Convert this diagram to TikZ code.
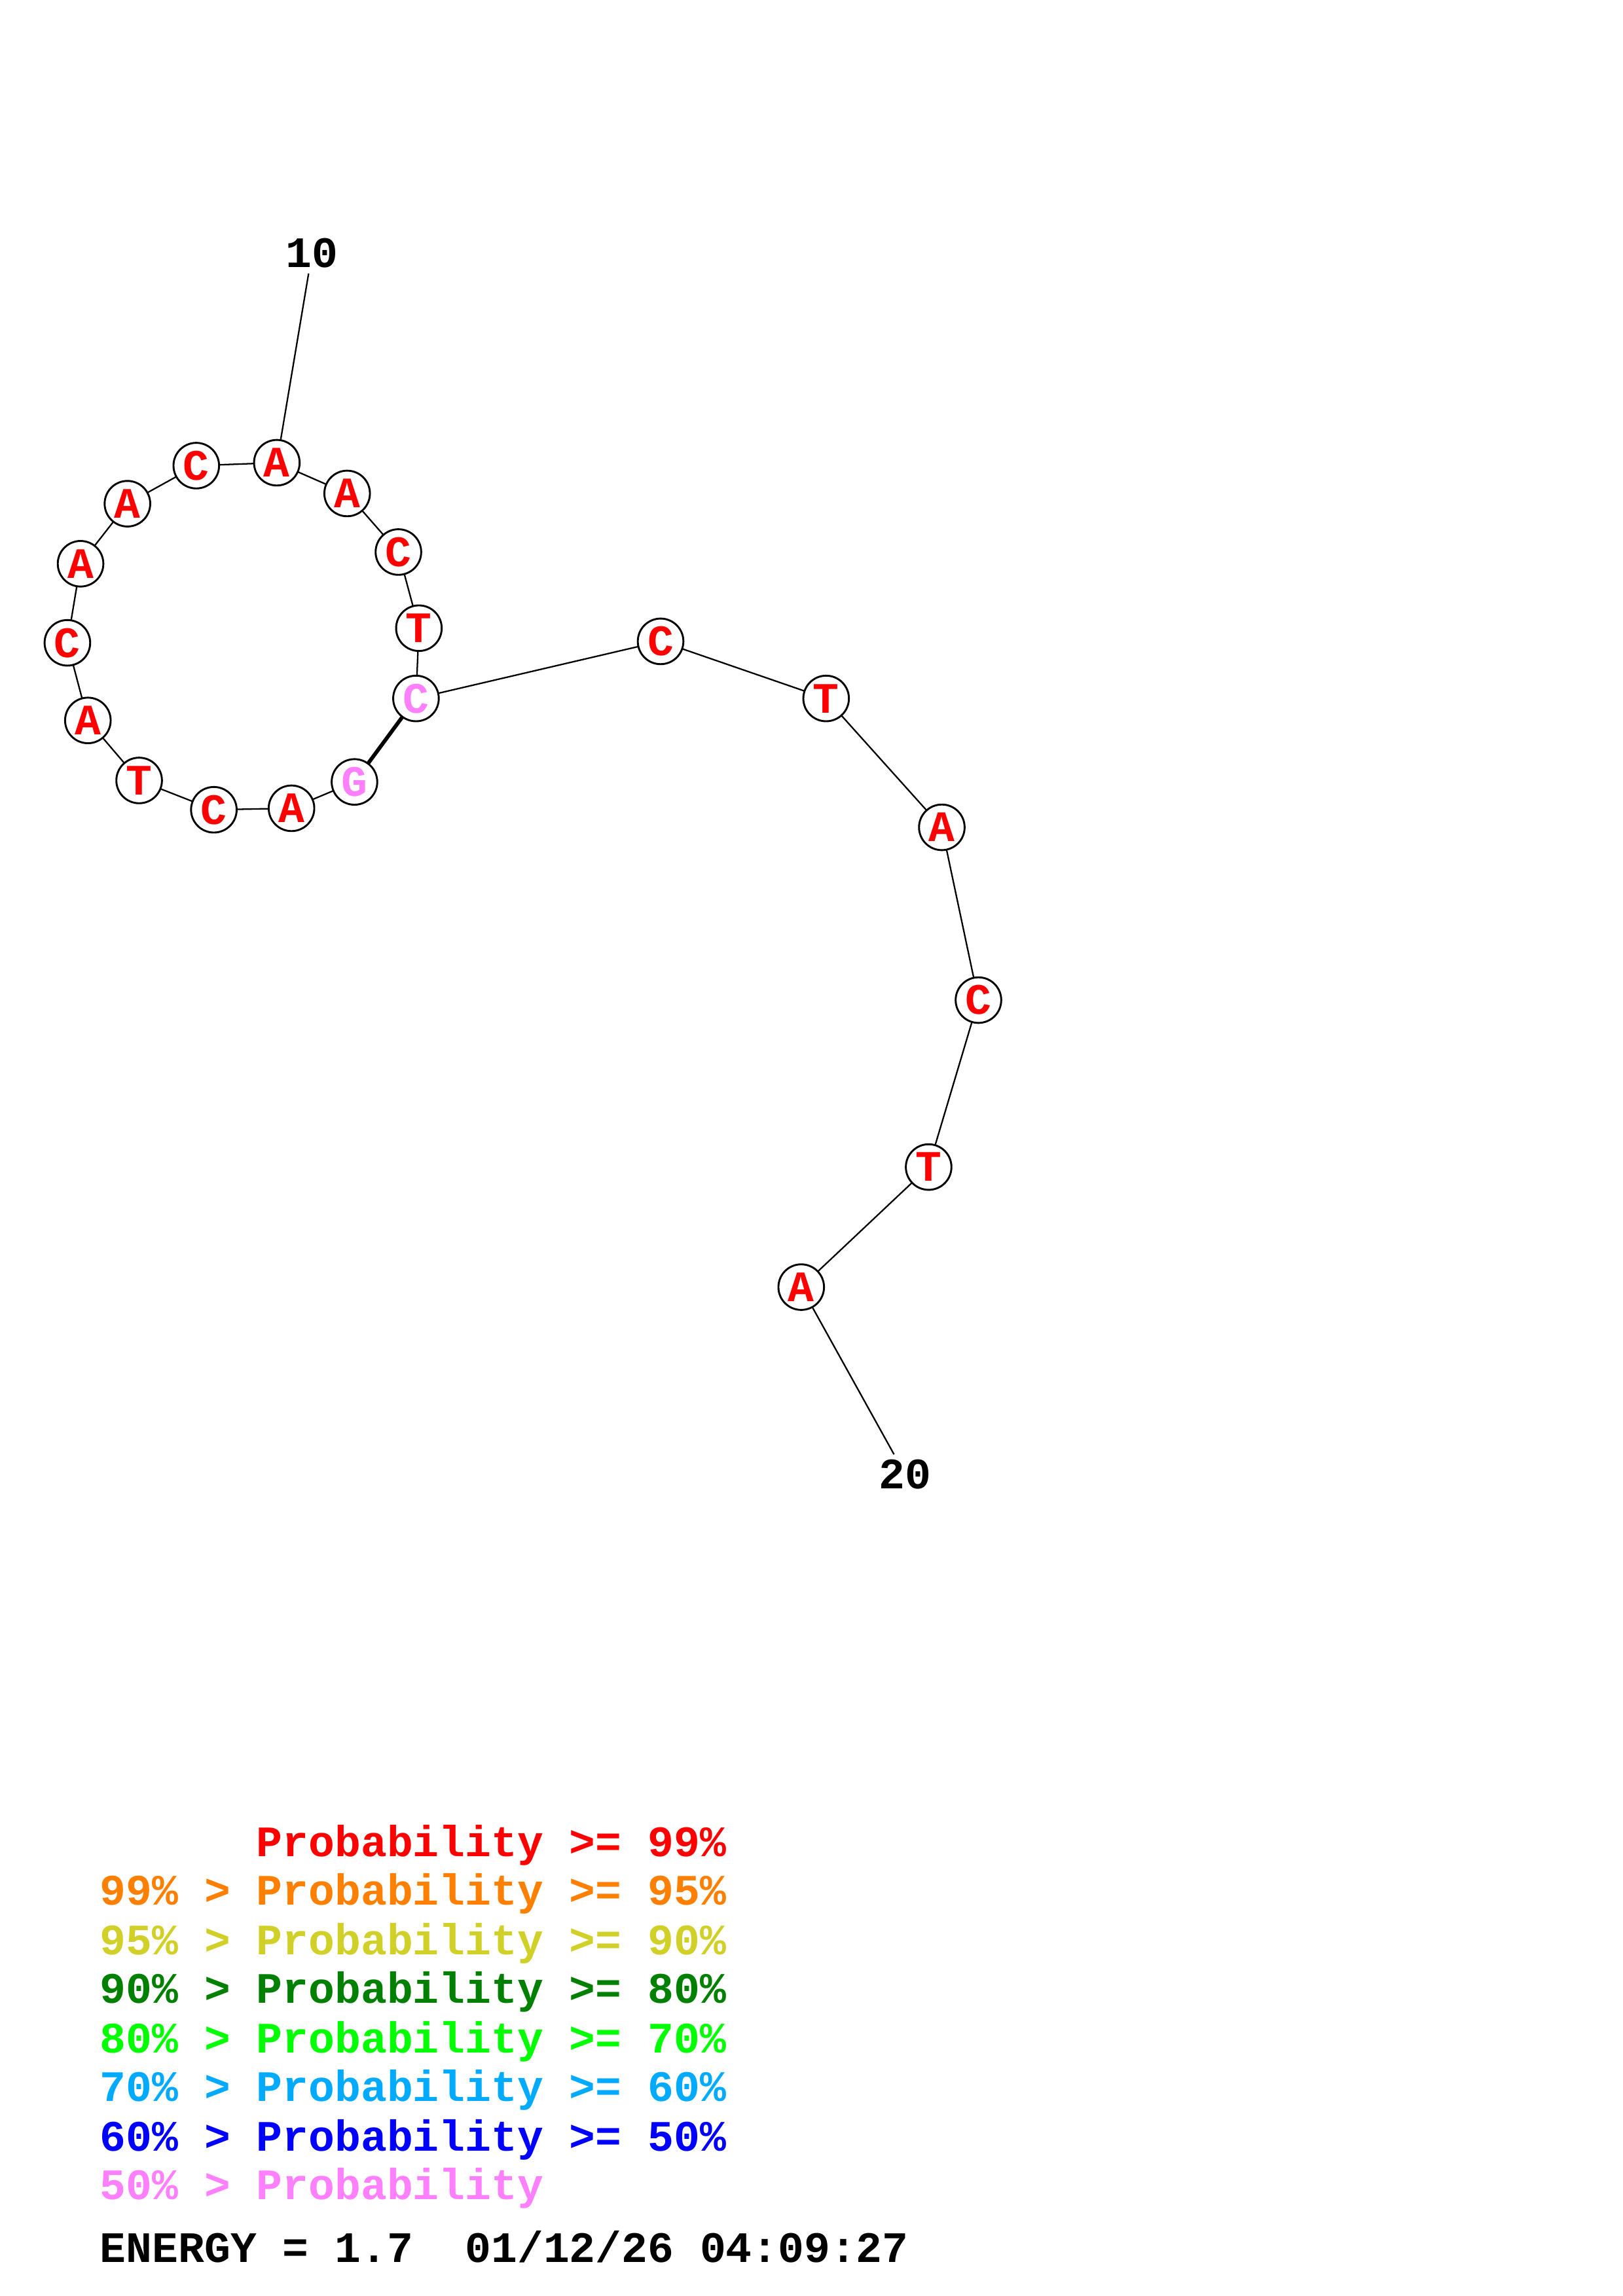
\documentclass[tikz,border=0pt]{standalone}
\usepackage{fontspec}
\setmainfont{Liberation Mono}
\usepackage{tkz-graph}

\definecolor{prob99}{RGB}{255,0,0}
\definecolor{prob95}{RGB}{255,128,0}
\definecolor{prob90}{RGB}{208,208,40}
\definecolor{prob80}{RGB}{0,128,0}
\definecolor{prob70}{RGB}{0,255,0}
\definecolor{prob60}{RGB}{0,170,255}
\definecolor{prob50}{RGB}{0,0,255}
\definecolor{problow}{RGB}{255,128,255}

\begin{document}
\begin{tikzpicture}[x=0.18953mm, y=-0.18953mm,
    legend/.style={anchor=base west, inner sep=0pt, font=\bfseries\fontsize{16}{16}\selectfont}]
    \useasboundingbox (0,0) rectangle (1108,1568);

    \tikzset{VertexStyle/.style={shape=circle, draw, fill=white, line width=0.7pt,
        minimum size=5.9mm, inner sep=0pt, text=prob99,
        font=\bfseries\fontsize{16}{16}\selectfont}}
    \Vertex[x=199, y=552, L=A]{a2}
    \Vertex[x=146, y=553, L=C]{c3}
    \Vertex[x=95,  y=533, L=T]{t4}
    \Vertex[x=60,  y=492, L=A]{a5}
    \Vertex[x=46,  y=439, L=C]{c6}
    \Vertex[x=55,  y=385, L=A]{a7}
    \Vertex[x=87,  y=344, L=A]{a8}
    \Vertex[x=134, y=318, L=C]{c9}
    \Vertex[x=189, y=316, L=A]{a10}
    \Vertex[x=237, y=337, L=A]{a11}
    \Vertex[x=272, y=377, L=C]{c12}
    \Vertex[x=286, y=429, L=T]{t13}
    \Vertex[x=451, y=438, L=C]{c15}
    \Vertex[x=564, y=477, L=T]{t16}
    \Vertex[x=643, y=565, L=A]{a17}
    \Vertex[x=668, y=683, L=C]{c18}
    \Vertex[x=634, y=797, L=T]{t19}
    \Vertex[x=547, y=879, L=A]{a20}

    \tikzset{VertexStyle/.append style={text=problow}}
    \Vertex[x=242, y=534, L=G]{g1}
    \Vertex[x=284, y=477, L=C]{c14}

    \tikzset{VertexStyle/.style={shape=rectangle, draw=none, inner sep=2pt, text=black,
        font=\bfseries\fontsize{16}{16}\selectfont}}
    \Vertex[x=213, y=173, L=10]{n10}
    \Vertex[x=618, y=1007, L=20]{n20}

    \tikzset{EdgeStyle/.style={line width=0.55pt}}
    \Edge(g1)(a2)
    \Edge(a2)(c3)
    \Edge(c3)(t4)
    \Edge(t4)(a5)
    \Edge(a5)(c6)
    \Edge(c6)(a7)
    \Edge(a7)(a8)
    \Edge(a8)(c9)
    \Edge(c9)(a10)
    \Edge(a10)(a11)
    \Edge(a11)(c12)
    \Edge(c12)(t13)
    \Edge(t13)(c14)
    \Edge(c14)(c15)
    \Edge(c15)(t16)
    \Edge(t16)(a17)
    \Edge(a17)(c18)
    \Edge(c18)(t19)
    \Edge(t19)(a20)
    \Edge(a10)(n10)
    \Edge(a20)(n20)
    \tikzset{EdgeStyle/.style={line width=1.4pt}}
    \Edge(g1)(c14)

    % legend
    \node[legend, text=prob99]  (leg99)  at (68,1268) {\phantom{99\% > }Probability >= 99\%};
    \node[legend, text=prob95]  (leg95)  at (68,1301) {99\% > Probability >= 95\%};
    \node[legend, text=prob90]  (leg90)  at (68,1335) {95\% > Probability >= 90\%};
    \node[legend, text=prob80]  (leg80)  at (68,1368) {90\% > Probability >= 80\%};
    \node[legend, text=prob70]  (leg70)  at (68,1402) {80\% > Probability >= 70\%};
    \node[legend, text=prob60]  (leg60)  at (68,1435) {70\% > Probability >= 60\%};
    \node[legend, text=prob50]  (leg50)  at (68,1469) {60\% > Probability >= 50\%};
    \node[legend, text=problow] (leglow) at (68,1502) {50\% > Probability};
    \node[legend] (energy) at (68,1545) {ENERGY = 1.7\ \ 01/12/26 04:09:27};
\end{tikzpicture}
\end{document}
